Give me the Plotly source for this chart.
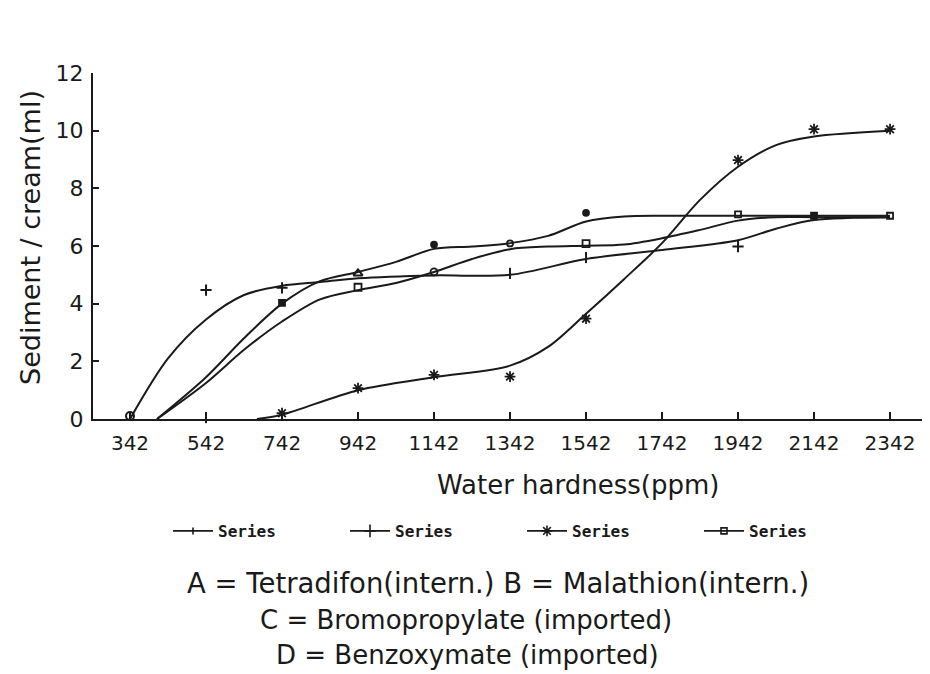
import plotly.graph_objects as go

# ---------------- data ----------------
x_ticks = [342, 542, 742, 942, 1142, 1342, 1542, 1742, 1942, 2142, 2342]
y_ticks = [0, 2, 4, 6, 8, 10, 12]

# fitted curves (as drawn)
fitA_x = [413, 542, 642, 742, 842, 942, 1042, 1142, 1242, 1342, 1442, 1542, 1642, 1742, 1942, 2142, 2342]
fitA_y = [0.0, 1.45, 2.8, 4.0, 4.78, 5.1, 5.45, 5.9, 5.98, 6.1, 6.35, 6.85, 7.02, 7.05, 7.05, 7.05, 7.05]

fitB_x = [342, 442, 542, 642, 742, 842, 942, 1142, 1342, 1542, 1742, 1942, 2042, 2142, 2342]
fitB_y = [0.0, 2.1, 3.45, 4.3, 4.62, 4.75, 4.88, 4.98, 5.0, 5.55, 5.86, 6.2, 6.6, 6.9, 7.0]

fitC_x = [676, 742, 942, 1142, 1342, 1442, 1542, 1642, 1742, 1842, 1942, 2042, 2142, 2342]
fitC_y = [0.0, 0.15, 1.0, 1.45, 1.85, 2.5, 3.65, 4.85, 6.1, 7.6, 8.75, 9.5, 9.8, 10.0]

fitD_x = [413, 542, 642, 742, 842, 942, 1042, 1142, 1242, 1342, 1442, 1542, 1642, 1742, 1842, 1942, 2042, 2142, 2342]
fitD_y = [0.0, 1.25, 2.4, 3.38, 4.15, 4.47, 4.72, 5.1, 5.55, 5.89, 5.98, 6.01, 6.05, 6.27, 6.56, 6.88, 7.0, 7.0, 7.0]

# observed points (markers)
obsA_x = [742, 1142, 1342, 1542, 1942, 2142, 2342]
obsA_y = [4.03, 6.05, 6.09, 7.15, 7.1, 7.05, 7.05]
obsA_sym = ["square", "circle", "circle-open", "circle", "square-open", "square", "square-open"]

obsB_x = [342, 542, 542, 742, 942, 1342, 1542, 1942]
obsB_y = [0.1, 0.05, 4.47, 4.55, 5.05, 5.05, 5.6, 5.98]
obsB_sym = ["circle-open", "line-ns", "cross-thin", "cross-thin", "triangle-up-open", "line-ns", "line-ns", "cross-thin"]

obsC_x = [742, 942, 1142, 1342, 1542, 1942, 2142, 2342]
obsC_y = [0.2, 1.07, 1.53, 1.47, 3.48, 8.98, 10.05, 10.05]

obsD_x = [942, 1142, 1542]
obsD_y = [4.57, 5.1, 6.08]
obsD_sym = ["square-open", "circle-open", "square-open"]

legend_names = ["Series", "Series", "Series", "Series"]
legend_symbols = ["line-ns", "cross-thin", "asterisk-open", "square-open"]
legend_sizes = [5, 9, 9, 6]

notes = ["A = Tetradifon(intern.) B = Malathion(intern.)",
         "C = Bromopropylate (imported)",
         "D = Benzoxymate (imported)"]

# ---------------- figure ----------------
INK = "#1a1a1a"
LW = 2
fig = go.Figure()

fits = [(fitA_x, fitA_y), (fitB_x, fitB_y), (fitC_x, fitC_y), (fitD_x, fitD_y)]
for fx, fy in fits:
    fig.add_trace(go.Scatter(x=fx, y=fy, mode="lines",
                             line=dict(color=INK, width=LW, shape="spline", smoothing=0.9),
                             showlegend=False, hoverinfo="skip", cliponaxis=False))

fig.add_trace(go.Scatter(x=obsA_x, y=obsA_y, mode="markers", showlegend=False, cliponaxis=False,
                         marker=dict(symbol=obsA_sym, size=6, color=INK,
                                     line=dict(color=INK, width=1.8))))
fig.add_trace(go.Scatter(x=obsB_x, y=obsB_y, mode="markers", showlegend=False, cliponaxis=False,
                         marker=dict(symbol=obsB_sym, size=8, color=INK,
                                     line=dict(color=INK, width=2))))
fig.add_trace(go.Scatter(x=obsC_x, y=obsC_y, mode="markers", showlegend=False, cliponaxis=False,
                         marker=dict(symbol="asterisk-open", size=9, color=INK,
                                     line=dict(color=INK, width=1.8))))
fig.add_trace(go.Scatter(x=obsD_x, y=obsD_y, mode="markers", showlegend=False, cliponaxis=False,
                         marker=dict(symbol=obsD_sym, size=7, color=INK,
                                     line=dict(color=INK, width=1.8))))

for name, sym, sz in zip(legend_names, legend_symbols, legend_sizes):
    fig.add_trace(go.Scatter(x=[None], y=[None], mode="lines+markers", name=name,
                             line=dict(color=INK, width=1.6),
                             marker=dict(symbol=sym, size=sz, color=INK,
                                         line=dict(color=INK, width=1.6))))

# page body has an 8px margin: work in screen pixels and convert
OFF = 8
W, H = 930 - OFF, 674 - OFF
L, R, T = 93 - OFF, 5, 73 - OFF
B = H - (419 - OFF)
PW, PH = W - L - R, H - T - B
def px(x): return (x - OFF - L) / PW
def py(y): return ((419 - OFF) - (y - OFF)) / PH

ann = []
ann.append(dict(text="Water hardness(ppm)", x=px(578), y=py(485), xref="paper", yref="paper",
                xanchor="center", yanchor="middle",
                showarrow=False, font=dict(family="DejaVu Sans", size=26, color=INK)))
ann.append(dict(text="Sediment / cream(ml)", x=px(30), y=py(238), xref="paper", yref="paper",
                xanchor="center", yanchor="middle",
                showarrow=False, textangle=-90, font=dict(family="DejaVu Sans", size=27, color=INK)))
for t, cx, cy, fs in zip(notes, [498, 466, 467], [583, 620, 655], [27.5, 26, 26]):
    ann.append(dict(text=t, x=px(cx), y=py(cy), xref="paper", yref="paper", showarrow=False,
                    xanchor="center", yanchor="middle",
                    font=dict(family="DejaVu Sans", size=fs, color=INK)))

fig.update_layout(
    width=W, height=H,
    margin=dict(l=L, r=R, t=T, b=B, autoexpand=False),
    paper_bgcolor="white", plot_bgcolor="white",
    annotations=ann,
    legend=dict(orientation="h", x=px(168), xanchor="left", y=py(531), yanchor="middle",
                entrywidth=122, entrywidthmode="pixels",
                font=dict(family="DejaVu Sans Mono", size=16, color=INK, weight="bold"),
                bgcolor="rgba(0,0,0,0)", itemwidth=40),
)
fig.update_xaxes(range=[244.6, 2434], tickvals=x_ticks, ticktext=[str(v) for v in x_ticks],
                 showgrid=False, zeroline=False, showline=True, linecolor=INK, linewidth=2,
                 ticks="inside", ticklen=7, tickwidth=2, tickcolor=INK,
                 tickfont=dict(family="DejaVu Sans", size=20, color=INK), ticklabelstandoff=5)
fig.update_yaxes(range=[0, 12], tickvals=y_ticks, showgrid=False, zeroline=False,
                 showline=True, linecolor=INK, linewidth=2,
                 ticks="inside", ticklen=6, tickwidth=2, tickcolor=INK,
                 tickfont=dict(family="DejaVu Sans", size=22, color=INK), ticklabelstandoff=3)

fig.write_html("out.html")
